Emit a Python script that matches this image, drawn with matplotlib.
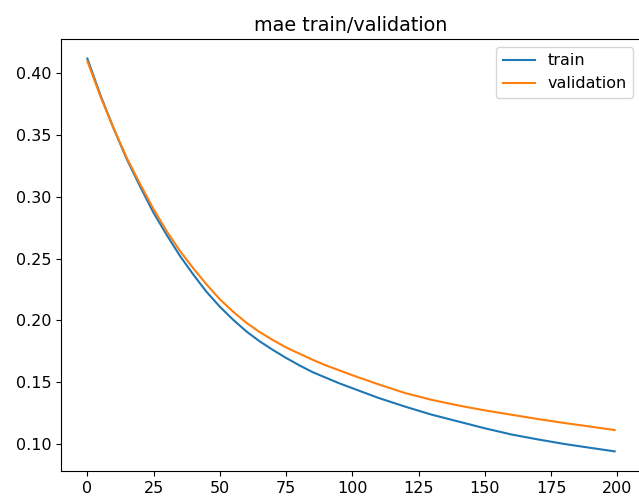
import matplotlib
matplotlib.use("Agg")
import matplotlib.pyplot as plt

epochs = [0, 5, 10, 15, 20, 25, 30, 35, 40, 45, 50, 55, 60, 65, 70, 75, 80,
          85, 90, 95, 100, 110, 120, 130, 140, 150, 160, 170, 180, 190, 199]
train_mae = [0.412, 0.382, 0.355, 0.330, 0.308, 0.287, 0.269, 0.252, 0.237,
             0.223, 0.211, 0.2005, 0.191, 0.183, 0.176, 0.1695, 0.1635,
             0.158, 0.1535, 0.149, 0.145, 0.137, 0.130, 0.1235, 0.118,
             0.1125, 0.1075, 0.1035, 0.0998, 0.0966, 0.0938]
val_mae = [0.410, 0.381, 0.355, 0.331, 0.310, 0.290, 0.272, 0.256, 0.242,
           0.229, 0.217, 0.207, 0.198, 0.1905, 0.184, 0.178, 0.173,
           0.168, 0.1635, 0.1595, 0.1555, 0.148, 0.141, 0.1355, 0.131,
           0.127, 0.1235, 0.1200, 0.1168, 0.1138, 0.1111]
title = "mae train/validation"
labels = ["train", "validation"]

plt.rcParams["font.size"] = 11.5
fig = plt.figure(figsize=(6.39, 4.96), dpi=100)
ax = fig.add_axes([61 / 639, 25 / 496, 580 / 639, 432 / 496])
ax.plot(epochs, train_mae, color="#1f77b4", label=labels[0])
ax.plot(epochs, val_mae, color="#ff7f0e", label=labels[1])
ax.set_title(title, fontsize=13.8)
ax.set_xticks([0, 25, 50, 75, 100, 125, 150, 175, 200])
ax.set_yticks([0.10, 0.15, 0.20, 0.25, 0.30, 0.35, 0.40])
ax.legend(loc="upper right")
fig.savefig("out.png", dpi=100)
